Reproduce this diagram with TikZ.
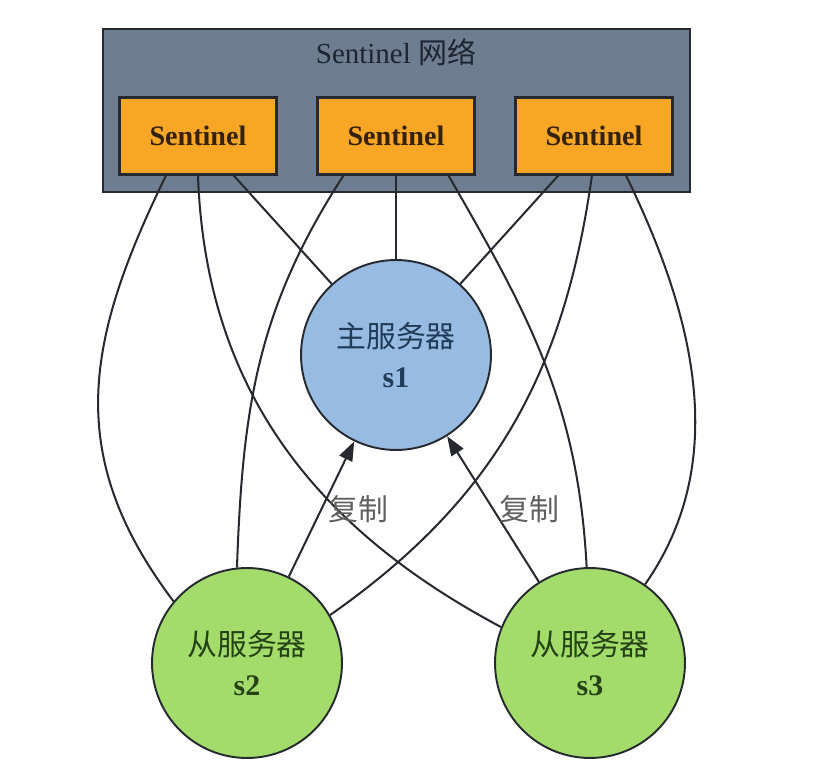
\documentclass[tikz,border=0pt]{standalone}
\usepackage{fontspec}
\setmainfont{Liberation Serif}
\newfontfamily\cjk{Noto Sans CJK SC}
\usetikzlibrary{arrows.meta}
\definecolor{netgray}{RGB}{110,125,143}
\definecolor{sentorange}{RGB}{247,166,38}
\definecolor{masterblue}{RGB}{152,187,226}
\definecolor{slavegreen}{RGB}{163,220,106}
\definecolor{edgeink}{RGB}{38,42,48}
\definecolor{titleink}{RGB}{30,36,48}
\definecolor{masterink}{RGB}{32,60,88}
\definecolor{slaveink}{RGB}{36,66,22}
\definecolor{sentink}{RGB}{52,34,12}
\definecolor{labelink}{RGB}{95,95,95}
\tikzset{
  netbox/.style={draw=edgeink,fill=netgray,line width=1.2pt,
    minimum width=11.74cm,minimum height=3.26cm},
  nettitle/.style={text=titleink,font=\fontsize{16.5}{19}\selectfont},
  sentbox/.style={draw=edgeink,fill=sentorange,line width=1.2pt,
    minimum width=3.14cm,minimum height=1.54cm,text=sentink,
    font=\fontsize{16}{19}\selectfont\bfseries},
  srvnode/.style={circle,draw=edgeink,line width=1.1pt,minimum size=3.8cm,
    align=center,font=\fontsize{17}{23}\selectfont},
  linkline/.style={draw=edgeink,line width=1.15pt},
  repline/.style={linkline,-{Triangle[length=11pt,width=8pt]}},
  replabel/.style={text=labelink,font=\cjk\fontsize{17}{20}\selectfont},
}
\begin{document}
\begin{tikzpicture}[x=0.02cm,y=0.02cm]
  \useasboundingbox (0,0) rectangle (826,-766);
  % sentinel network
  \node[netbox] (net) at (396.5,-110.5) {};
  \node[nettitle] (nettext) at (396,-52) {Sentinel {\cjk 网络}};
  \foreach \i/\x in {1/198,2/396,3/594}
    \node[sentbox] (sent\i) at (\x,-136) {Sentinel};
  % servers
  \node[srvnode,fill=masterblue,text=masterink] (master) at (396,-355)
    {{\cjk 主服务器}\\\textbf{s1}};
  \node[srvnode,fill=slavegreen,text=slaveink] (slave2) at (247,-663)
    {{\cjk 从服务器}\\\textbf{s2}};
  \node[srvnode,fill=slavegreen,text=slaveink] (slave3) at (590,-663)
    {{\cjk 从服务器}\\\textbf{s3}};
  % sentinel links
  \foreach \i in {1,2,3}
    \draw[linkline] (sent\i) -- (master);
  \draw[linkline] (sent1.231) to[out=244,in=127,looseness=1.1] (slave2.140);
  \draw[linkline] (sent1.270) to[out=272,in=152] (slave3.158);
  \draw[linkline] (sent2.217) to[out=237,in=88] (slave2.96);
  \draw[linkline] (sent2.323) to[out=300,in=93] (slave3.92);
  \draw[linkline] (sent3.267) to[out=262,in=35] (slave2.30);
  \draw[linkline] (sent3.309) to[out=296,in=55,looseness=0.95] (slave3.55);
  % replication
  \draw[repline] (slave2) -- node[replabel,right] (rep2) {复制} (master);
  \draw[repline] (slave3) -- node[replabel,right] (rep3) {复制} (master);
\end{tikzpicture}
\end{document}
